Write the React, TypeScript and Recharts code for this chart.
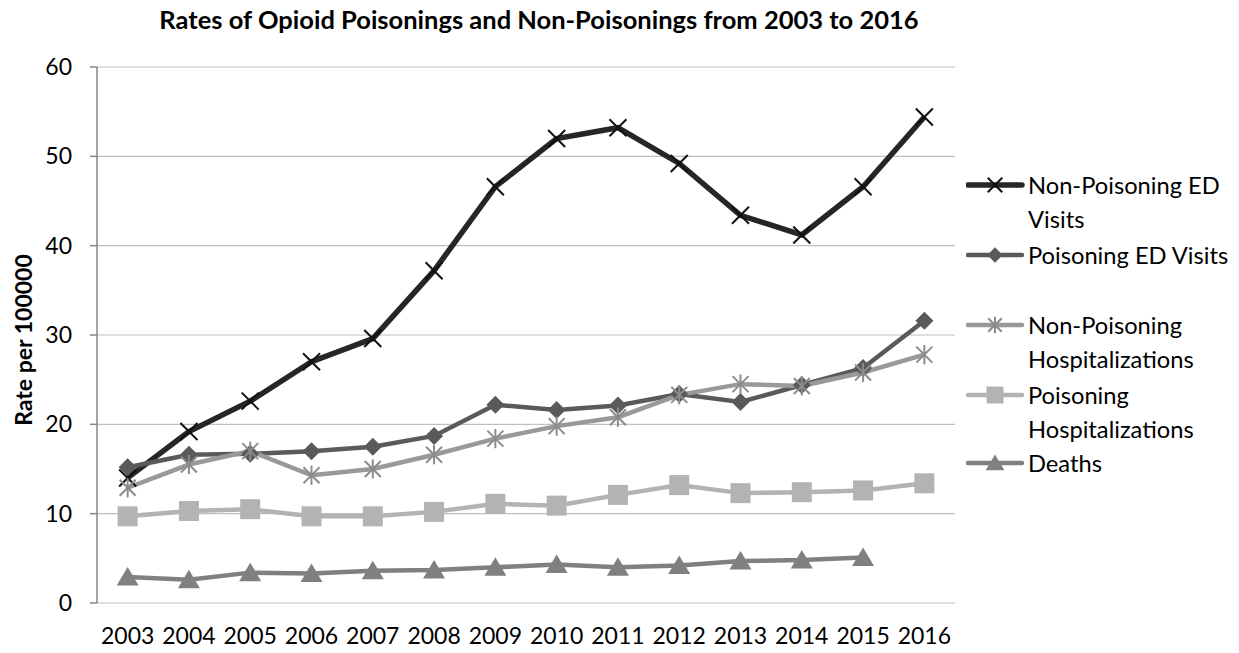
import { LineChart, Line, XAxis, YAxis, CartesianGrid } from 'recharts'

const years = ['2003', '2004', '2005', '2006', '2007', '2008', '2009', '2010', '2011', '2012', '2013', '2014', '2015', '2016']
const nonPoisoningED = [14.0, 19.2, 22.6, 27.0, 29.6, 37.2, 46.6, 52.0, 53.2, 49.2, 43.4, 41.2, 46.6, 54.4]
const poisoningED = [15.2, 16.6, 16.7, 17.0, 17.5, 18.7, 22.2, 21.6, 22.1, 23.4, 22.5, 24.4, 26.3, 31.6]
const nonPoisoningHosp = [12.9, 15.5, 17.0, 14.3, 15.0, 16.6, 18.4, 19.8, 20.8, 23.3, 24.5, 24.3, 25.8, 27.8]
const poisoningHosp = [9.7, 10.3, 10.5, 9.7, 9.7, 10.2, 11.1, 10.9, 12.1, 13.2, 12.3, 12.4, 12.6, 13.4]
const deaths = [2.9, 2.6, 3.4, 3.3, 3.6, 3.7, 4.0, 4.3, 4.0, 4.2, 4.7, 4.8, 5.1, null]
const yTicks = [0, 10, 20, 30, 40, 50, 60]

const data = years.map((year, i) => ({
  idx: i,
  year,
  nonPoisoningED: nonPoisoningED[i],
  poisoningED: poisoningED[i],
  nonPoisoningHosp: nonPoisoningHosp[i],
  poisoningHosp: poisoningHosp[i],
  deaths: deaths[i],
}))

const FONT = 'Lato, "Open Sans", sans-serif'

// marker shapes, shared by the lines and the legend
function Mark({ kind, cx, cy, r, color }: { kind: string; cx: number; cy: number; r: number; color: string }) {
  if (kind === 'x') {
    return (
      <g stroke={color} strokeWidth={2}>
        <line x1={cx - r} y1={cy - r} x2={cx + r} y2={cy + r} />
        <line x1={cx - r} y1={cy + r} x2={cx + r} y2={cy - r} />
      </g>
    )
  }
  if (kind === 'star') {
    return (
      <g stroke={color} strokeWidth={2}>
        <line x1={cx - r} y1={cy - r} x2={cx + r} y2={cy + r} />
        <line x1={cx - r} y1={cy + r} x2={cx + r} y2={cy - r} />
        <line x1={cx} y1={cy - r * 1.2} x2={cx} y2={cy + r * 1.2} />
      </g>
    )
  }
  if (kind === 'diamond') {
    return <polygon points={`${cx},${cy - r} ${cx + r},${cy} ${cx},${cy + r} ${cx - r},${cy}`} fill={color} />
  }
  if (kind === 'square') {
    return <rect x={cx - r} y={cy - r} width={r * 2} height={r * 2} fill={color} />
  }
  return <polygon points={`${cx},${cy - r} ${cx + r * 1.1},${cy + r * 0.85} ${cx - r * 1.1},${cy + r * 0.85}`} fill={color} />
}

const series = [
  { key: 'nonPoisoningED', lines: ['Non-Poisoning ED', 'Visits'], kind: 'x', line: '#262626', mark: '#111111', width: 5.5, r: 8.5 },
  { key: 'poisoningED', lines: ['Poisoning ED Visits'], kind: 'diamond', line: '#5a5a5a', mark: '#5a5a5a', width: 4.5, r: 9 },
  { key: 'nonPoisoningHosp', lines: ['Non-Poisoning', 'Hospitalizations'], kind: 'star', line: '#999999', mark: '#8c8c8c', width: 4.5, r: 8 },
  { key: 'poisoningHosp', lines: ['Poisoning', 'Hospitalizations'], kind: 'square', line: '#b3b3b3', mark: '#b3b3b3', width: 4.5, r: 10 },
  { key: 'deaths', lines: ['Deaths'], kind: 'triangle', line: '#808080', mark: '#808080', width: 4.5, r: 10 },
]

const legendTops = [177, 247, 317, 387, 455]

export default function App() {
  return (
    <div style={{ position: 'relative', width: 1223, height: 645, fontFamily: FONT }}>
      <div style={{ position: 'absolute', left: 531, top: 11, transform: 'translate(-50%, -50%)', whiteSpace: 'nowrap', fontWeight: 700, fontSize: 25.5, color: '#000' }}>
        Rates of Opioid Poisonings and Non-Poisonings from 2003 to 2016
      </div>
      <div style={{ position: 'absolute', left: 15, top: 332, transform: 'translate(-50%, -50%) rotate(-90deg)', whiteSpace: 'nowrap', fontWeight: 700, fontSize: 23, color: '#000' }}>
        Rate per 100000
      </div>
      <LineChart width={1223} height={645} data={data} margin={{ top: 59, right: 276, bottom: 0, left: 0 }}>
        <CartesianGrid vertical={false} stroke="#bfbfbf" strokeWidth={1.2} />
        <XAxis
          xAxisId="b"
          type="number"
          dataKey="idx"
          domain={[-0.5, 13.5]}
          ticks={[-0.5, 0.5, 1.5, 2.5, 3.5, 4.5, 5.5, 6.5, 7.5, 8.5, 9.5, 10.5, 11.5, 12.5, 13.5]}
          tick={false}
          tickSize={7}
          height={0}
          axisLine={{ stroke: '#868686', strokeWidth: 1.5 }}
          tickLine={{ stroke: '#868686', strokeWidth: 1.5 }}
        />
        <XAxis
          type="number"
          dataKey="idx"
          domain={[-0.5, 13.5]}
          ticks={years.map((_, i) => i)}
          tickFormatter={(v) => years[v]}
          axisLine={false}
          tickLine={false}
          tickSize={0}
          tickMargin={25}
          height={50}
          tick={{ fontSize: 23, fill: '#000', fontFamily: FONT }}
        />
        <YAxis
          domain={[0, 60]}
          ticks={yTicks}
          width={89}
          tickSize={7}
          tickMargin={18}
          axisLine={{ stroke: '#868686', strokeWidth: 1.5 }}
          tickLine={{ stroke: '#868686', strokeWidth: 1.5 }}
          tick={{ fontSize: 23, fill: '#000', fontFamily: FONT }}
        />
        {series.map((s) => (
          <Line
            key={s.key}
            dataKey={s.key}
            stroke={s.line}
            strokeWidth={s.width}
            isAnimationActive={false}
            dot={(p: any) =>
              p.cy == null ? <g key={`${s.key}-${p.index}`} /> : (
                <g key={`${s.key}-${p.index}`}>
                  <Mark kind={s.kind} cx={p.cx} cy={p.cy} r={s.r} color={s.mark} />
                </g>
              )
            }
            activeDot={false}
          />
        ))}
      </LineChart>
      {series.map((s, i) => (
        <div key={s.key} style={{ position: 'absolute', left: 958, top: legendTops[i] - 17 }}>
          <svg width={60} height={34} style={{ position: 'absolute', left: 0, top: 0 }}>
            <line x1={2} y1={17} x2={56} y2={17} stroke={s.line} strokeWidth={s.width} strokeLinecap="round" />
            <Mark kind={s.kind} cx={29} cy={17} r={s.r * 0.85} color={s.mark} />
          </svg>
          <div style={{ position: 'absolute', left: 62, top: 0, whiteSpace: 'nowrap', fontSize: 23.7, lineHeight: '34px', color: '#000' }}>
            {s.lines.map((t) => (
              <div key={t}>{t}</div>
            ))}
          </div>
        </div>
      ))}
    </div>
  )
}
